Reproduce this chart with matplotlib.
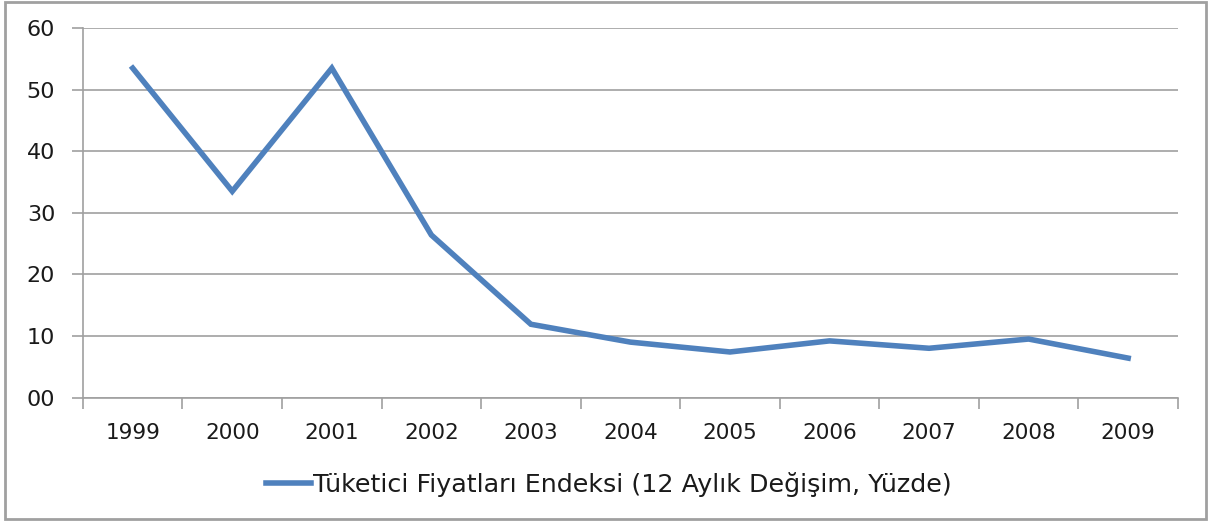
import matplotlib
matplotlib.use("Agg")
import matplotlib.pyplot as plt
from matplotlib.patches import Rectangle
import numpy as np

years = ["1999", "2000", "2001", "2002", "2003", "2004", "2005", "2006", "2007", "2008", "2009"]
values = [53.5, 33.5, 53.5, 26.4, 11.9, 9.0, 7.4, 9.2, 8.0, 9.5, 6.4]
yticks = [0, 10, 20, 30, 40, 50, 60]
ytick_labels = ["00", "10", "20", "30", "40", "50", "60"]
series_name = "Tüketici Fiyatları Endeksi (12 Aylık Değişim, Yüzde)"

plt.rcParams['font.family'] = ['DejaVu Sans']

fig = plt.figure(figsize=(12.11, 5.21), dpi=100)
fig.patches.append(Rectangle((0.004, 0.004), 0.992, 0.992, transform=fig.transFigure,
                             fill=False, edgecolor="#A0A0A0", linewidth=2))
ax = fig.add_axes([0.0685, 0.237, 0.9042, 0.709])

x = np.arange(len(years))
line, = ax.plot(x, values, color="#4F81BD", linewidth=4.0, solid_joinstyle="miter",
                label=series_name)

ax.set_xlim(-0.5, len(years) - 0.5)
ax.set_ylim(0, 60)
ax.set_yticks(yticks)
ax.set_yticklabels(ytick_labels)
ax.set_xticks(x)
ax.set_xticklabels(years)
ax.set_xticks(np.arange(-0.5, len(years), 1), minor=True)
ax.tick_params(axis="x", which="major", length=0, pad=18, labelsize=15.5, colors="#1a1a1a")
ax.tick_params(axis="x", which="minor", length=8, width=1.2, color="#A0A0A0")
ax.tick_params(axis="y", length=8, width=1.2, color="#A0A0A0", pad=12, labelsize=16,
               labelcolor="#1a1a1a")
ax.grid(axis="y", color="#A0A0A0", linewidth=1.2)
ax.set_axisbelow(True)
for s in ["top", "right"]:
    ax.spines[s].set_visible(False)
for s in ["left", "bottom"]:
    ax.spines[s].set_color("#A0A0A0")
    ax.spines[s].set_linewidth(1.2)

fig.legend(handles=[line], loc="center", bbox_to_anchor=(0.503, 0.071), frameon=False,
           fontsize=18.3, handlelength=1.75, handletextpad=0.1, labelcolor="#1a1a1a")

fig.savefig("out.png", dpi=100)
